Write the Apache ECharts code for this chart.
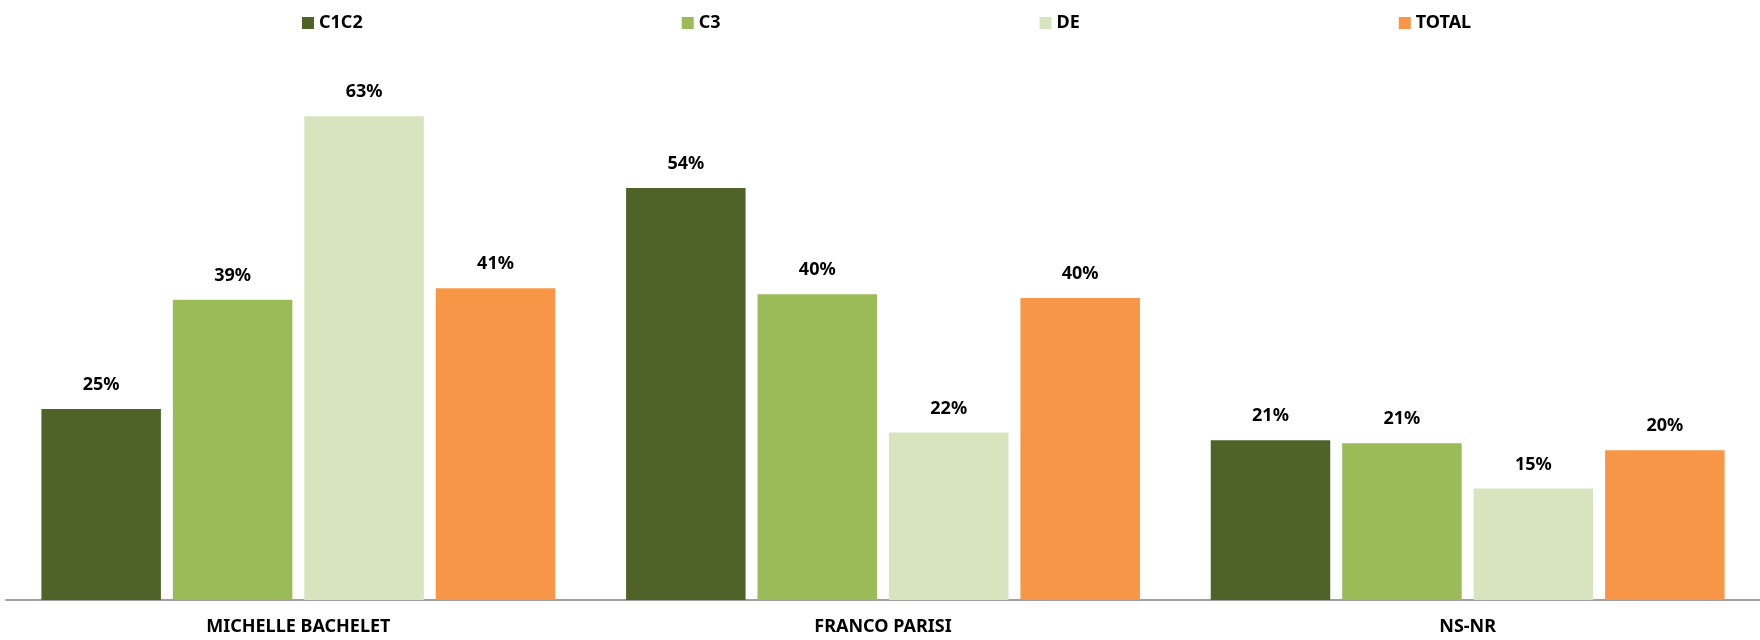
<!DOCTYPE html>
<html>
<head>
<meta charset="utf-8">
<script src="https://cdn.jsdelivr.net/npm/echarts@6/dist/echarts.min.js"></script>
<style>
html,body{margin:0;padding:0;background:#fff;}
#chart{width:1760px;height:640px;}
</style>
</head>
<body>
<div id="chart"></div>
<script>
const categories = ['MICHELLE BACHELET', 'FRANCO PARISI', 'NS-NR'];
const seriesNames = ['C1C2', 'C3', 'DE', 'TOTAL'];
const c1c2 = [25.0, 53.9, 20.9];
const c3 = [39.3, 40.0, 20.5];
const de = [63.3, 21.9, 14.6];
const total = [40.8, 39.5, 19.6];
const colors = ['#4F6228', '#9BBB59', '#D7E4BD', '#F79646'];

const FONT = 'Noto Sans';
const dataSets = [c1c2, c3, de, total];

const chart = echarts.init(document.getElementById('chart'));
chart.setOption({
  animation: false,
  backgroundColor: '#ffffff',
  textStyle: { fontFamily: FONT },
  legend: {
    top: 9,
    left: 297,
    itemGap: 319,
    itemWidth: 12,
    itemHeight: 12,
    icon: 'rect',
    textStyle: { fontFamily: FONT, fontWeight: 'bold', fontSize: 18, color: '#000' },
    data: seriesNames
  },
  grid: { left: 6, right: 0, top: 65, bottom: 40, containLabel: false },
  xAxis: {
    type: 'category',
    data: categories,
    axisTick: { show: false },
    axisLine: { lineStyle: { color: '#A0A0A0', width: 2 } },
    axisLabel: { fontFamily: FONT, fontWeight: 'bold', fontSize: 18, color: '#000', margin: 18 }
  },
  yAxis: {
    type: 'value',
    min: 0,
    max: 70,
    show: false,
    splitLine: { show: false }
  },
  series: seriesNames.map((name, i) => ({
    name: name,
    type: 'bar',
    data: dataSets[i],
    barWidth: 119.5,
    barGap: '10%',
    itemStyle: { color: colors[i] },
    label: {
      show: true,
      position: 'top',
      distance: 15,
      fontFamily: FONT,
      fontWeight: 'bold',
      fontSize: 18,
      color: '#000',
      formatter: p => Math.round(p.value) + '%'
    }
  }))
});
</script>
</body>
</html>
